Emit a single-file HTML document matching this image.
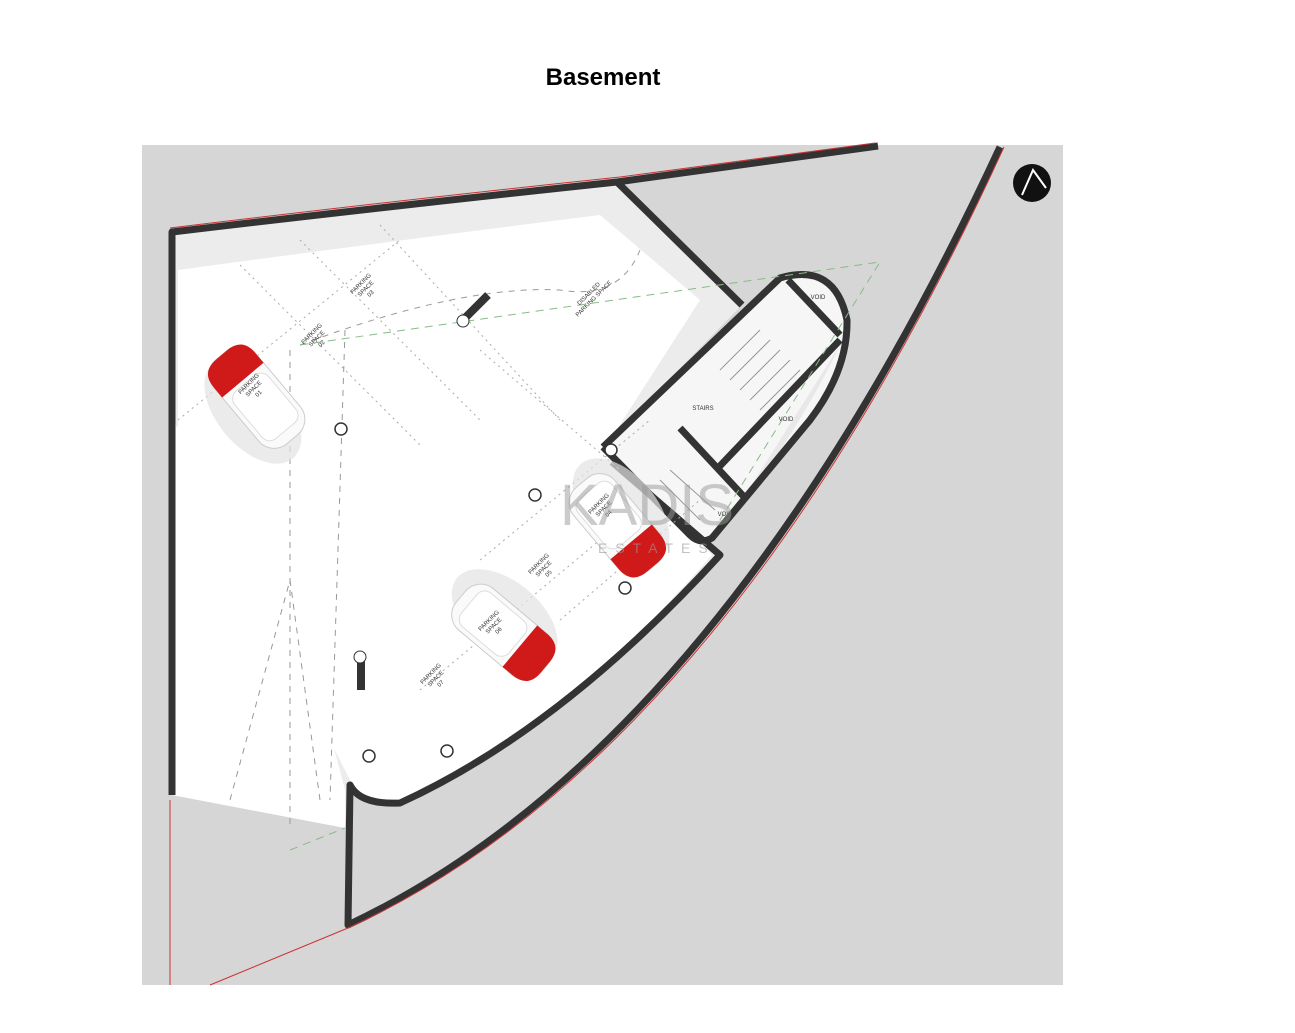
<!DOCTYPE html>
<html><head><meta charset="utf-8"><style>
html,body{margin:0;padding:0;background:#fff;}
body{width:1295px;height:1033px;position:relative;overflow:hidden;font-family:"Liberation Sans",sans-serif;}
h1{position:absolute;left:0;top:64px;width:1206px;text-align:center;margin:0;font-size:24px;font-weight:bold;}
svg{position:absolute;left:0;top:0;}
</style></head><body>
<h1>Basement</h1>
<svg width="1295" height="1033" viewBox="0 0 1295 1033">
<defs>
<g id="car">
<ellipse cx="8" cy="12" rx="62" ry="36" fill="#e2e2e2" opacity="0.7"/>
<rect x="-55" y="-27" width="110" height="54" rx="20" fill="#fafafa" stroke="#ccc"/>
<path d="M-55,-7 Q-55,-27 -35,-27 L-22,-27 L-22,27 L-35,27 Q-55,27 -55,7 Z" fill="#d01a1a"/>
<rect x="-18" y="-22" width="62" height="44" rx="10" fill="#fff" stroke="#ddd"/>
</g>
</defs>
<rect x="142" y="145" width="921" height="840" fill="#d6d6d6"/>
<path d="M172,232 Q400,205 617,182 L742,305 L603,447 L697,540 L720,555 Q560,730 400,803 Q355,805 348,785 L345,828 L172,795 Z" fill="#ececec"/>
<path d="M178,270 Q400,240 600,215 L700,300 L610,440 L712,555 Q560,730 400,800 Q355,800 350,780 L178,440 Z" fill="#fff"/>
<path d="M172,795 L345,828 L345,790 L290,580 L172,420 Z" fill="#fff"/>
<path d="M603,447 L780,278 Q830,260 847,320 Q848,370 810,420 L710,537 L697,540 Z" fill="#f6f6f6"/>
<path d="M780,440 L840,345 Q800,430 720,535 Z" fill="#e8e8e8"/>
<g stroke="#333" stroke-width="7" fill="none" stroke-linejoin="round">
<path d="M172,795 L172,232 Q400,205 617,182 L878,146"/>
<path d="M617,182 L742,305"/>
<path d="M603,447 L780,278 Q835,262 847,320 Q848,370 810,420 L712,538 Q700,545 690,535 L603,447"/>
<path d="M788,280 L840,335"/>
<path d="M840,340 L718,468"/>
<path d="M680,428 L747,500"/>
<path d="M612,462 L720,555 Q560,730 400,803 Q360,805 350,785 L348,925 Q720,750 1000,147"/>
</g>
<g stroke="#c33" stroke-width="1" fill="none">
<path d="M170,228 Q400,200 620,177 L875,143"/>
<path d="M170,800 L170,985"/>
<path d="M210,985 L348,928 Q725,755 1004,147"/>
</g>
<g stroke="#999" stroke-width="1" fill="none">
<path d="M720,370 L760,330 M730,380 L770,340 M740,390 L780,350 M750,400 L790,360 M760,410 L800,370"/>
<path d="M660,480 L700,520 M670,470 L715,510"/>
</g>
<g stroke="#aaa" stroke-width="1" stroke-dasharray="2,4" fill="none">
<path d="M240,265 L420,445 M300,240 L480,420 M380,225 L560,420 M480,350 L620,470"/>
<path d="M178,420 L400,240 M480,560 L650,420 M560,620 L700,500 M420,690 L600,540"/>
</g>
<g stroke="#999" stroke-width="1" stroke-dasharray="6,6" fill="none">
<path d="M300,345 Q460,285 560,290 Q620,300 640,250"/>
<path d="M290,350 L290,830 M345,330 L330,800 M230,800 L290,580 L320,800"/>
</g>
<g stroke="#8b8" stroke-width="1" stroke-dasharray="8,6" fill="none">
<path d="M300,345 L880,262 L720,520 M290,850 L345,828"/>
</g>
<use href="#car" transform="translate(257,397) rotate(50)"/>
<use href="#car" transform="translate(617,525) rotate(-130)"/>
<use href="#car" transform="translate(503,632) rotate(-140)"/>
<g fill="#fff" stroke="#333" stroke-width="1.5">
<circle cx="341" cy="429" r="6"/><circle cx="535" cy="495" r="6"/><circle cx="625" cy="588" r="6"/>
<circle cx="369" cy="756" r="6"/><circle cx="447" cy="751" r="6"/><circle cx="611" cy="450" r="6"/>
</g>
<rect x="357" y="660" width="8" height="30" fill="#333"/><circle cx="360" cy="657" r="6" fill="#fff" stroke="#333"/>
<path d="M465,318 L488,295" stroke="#333" stroke-width="8"/><circle cx="463" cy="321" r="6" fill="#fff" stroke="#333"/>
<g font-size="6" fill="#333" text-anchor="middle">
<text transform="translate(250,385) rotate(-45)">PARKING<tspan x="0" dy="7">SPACE</tspan><tspan x="0" dy="7">01</tspan></text>
<text transform="translate(313,335) rotate(-45)">PARKING<tspan x="0" dy="7">SPACE</tspan><tspan x="0" dy="7">02</tspan></text>
<text transform="translate(362,285) rotate(-45)">PARKING<tspan x="0" dy="7">SPACE</tspan><tspan x="0" dy="7">03</tspan></text>
<text transform="translate(590,295) rotate(-45)">DISABLED<tspan x="0" dy="7">PARKING SPACE</tspan></text>
<text transform="translate(600,505) rotate(-45)">PARKING<tspan x="0" dy="7">SPACE</tspan><tspan x="0" dy="7">04</tspan></text>
<text transform="translate(540,565) rotate(-45)">PARKING<tspan x="0" dy="7">SPACE</tspan><tspan x="0" dy="7">05</tspan></text>
<text transform="translate(490,622) rotate(-45)">PARKING<tspan x="0" dy="7">SPACE</tspan><tspan x="0" dy="7">06</tspan></text>
<text transform="translate(432,675) rotate(-45)">PARKING<tspan x="0" dy="7">SPACE</tspan><tspan x="0" dy="7">07</tspan></text>
<text x="703" y="410">STAIRS</text><text x="786" y="421">VOID</text><text x="818" y="299">VOID</text>
<text x="725" y="516">VOID</text>
</g>
<text x="560" y="525" font-size="58" fill="#999" opacity="0.5">KADIS</text>
<text x="598" y="553" font-size="14" fill="#999" opacity="0.6" letter-spacing="8">ESTATES</text>
<circle cx="1032" cy="183" r="19" fill="#111"/>
<path d="M1022,195 L1033,170 L1046,188" stroke="#fff" stroke-width="2" fill="none"/>
</svg>
</body></html>
